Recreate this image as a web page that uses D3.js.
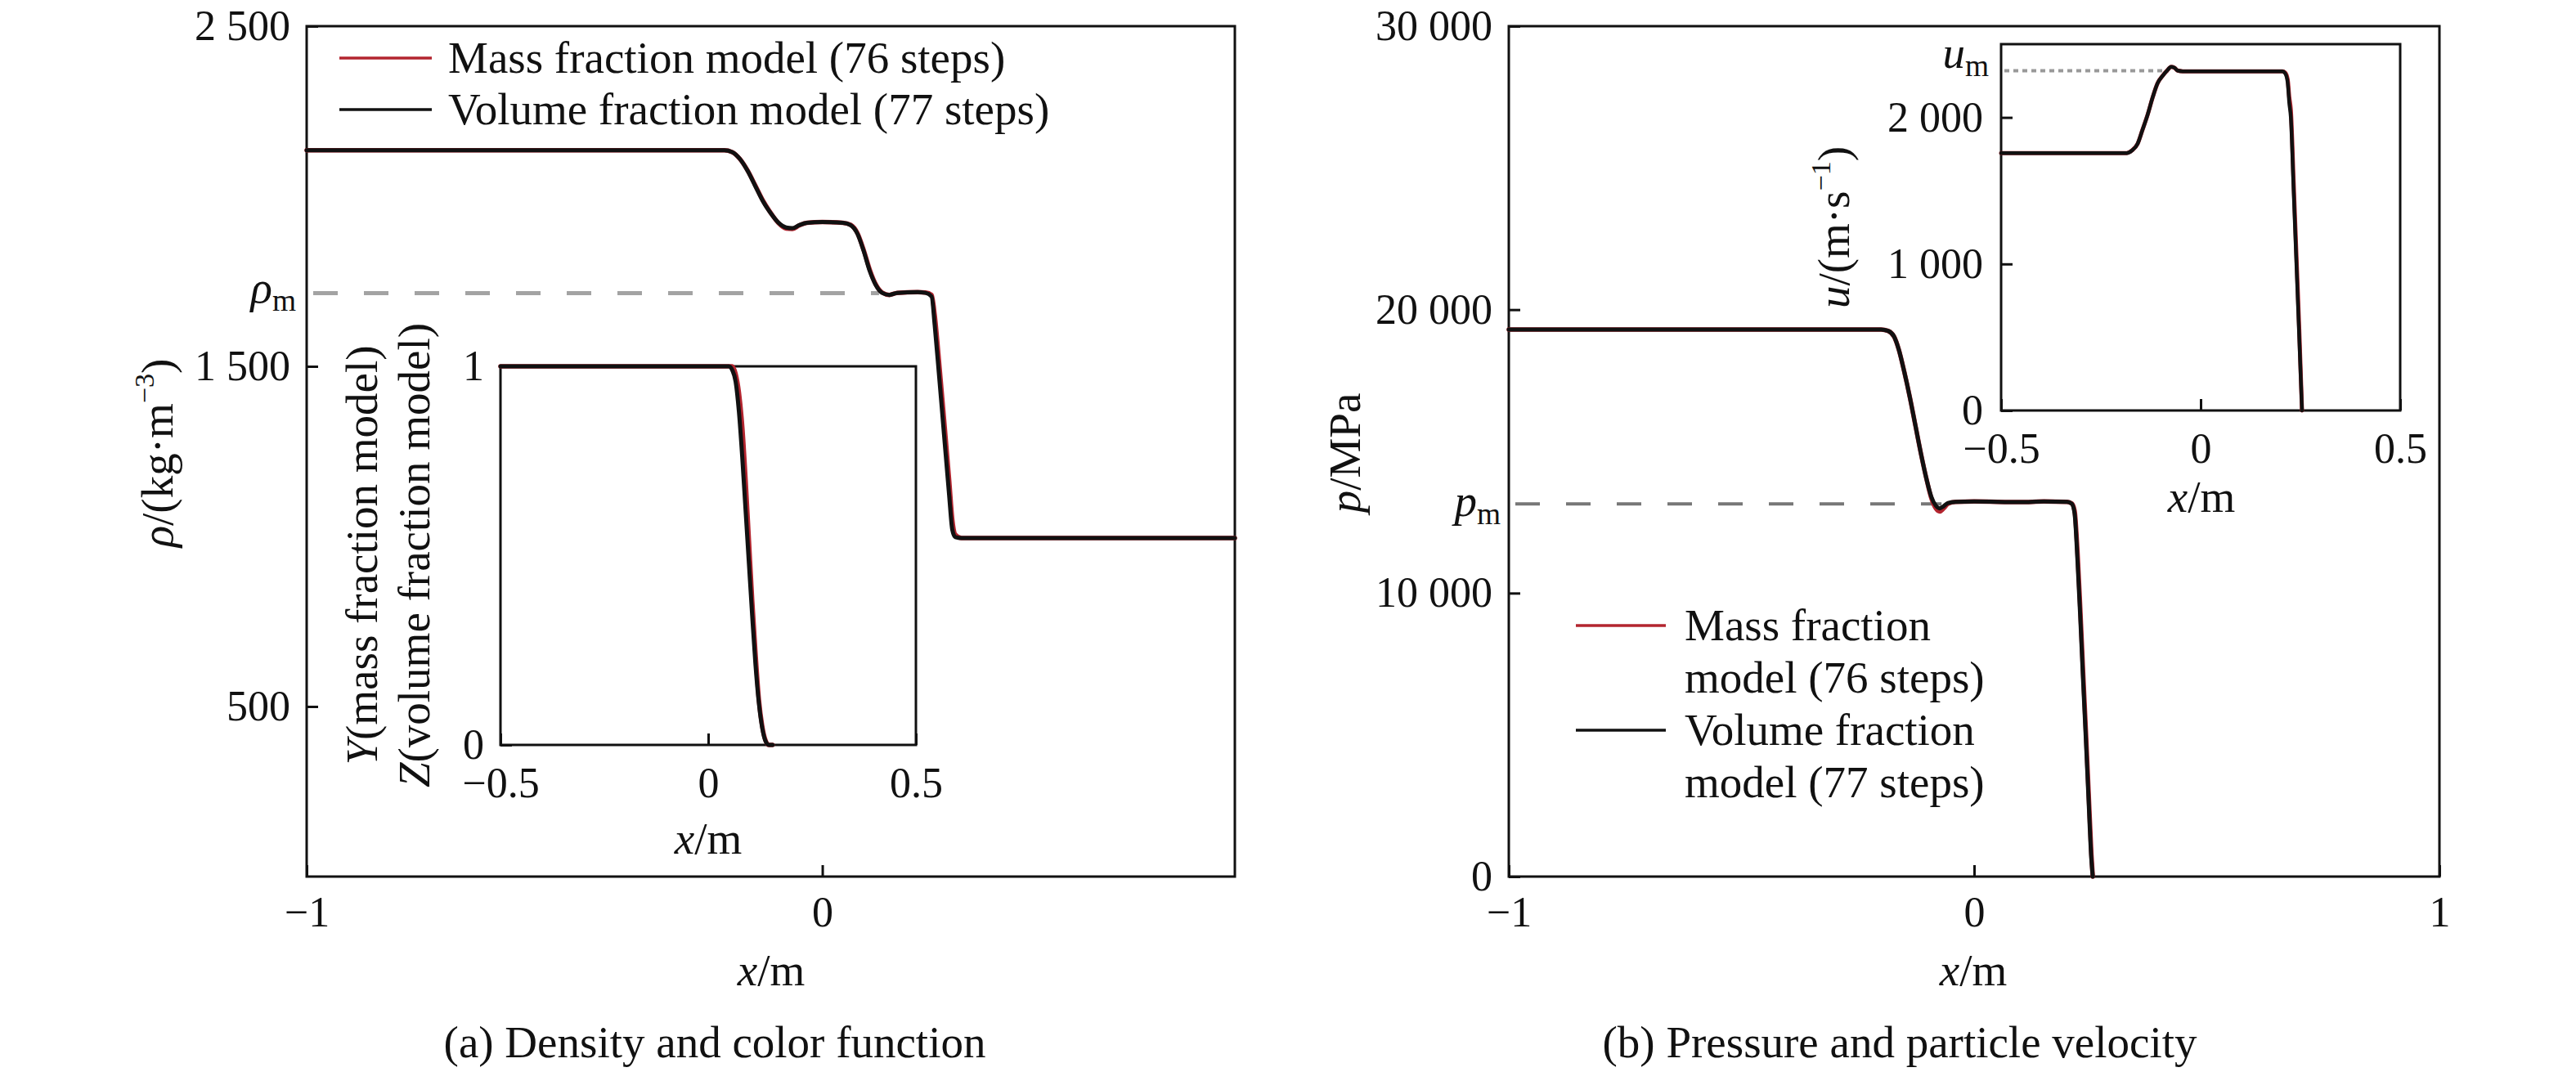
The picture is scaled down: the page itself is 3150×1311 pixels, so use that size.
<!DOCTYPE html>
<html><head><meta charset="utf-8">
<script src="https://cdn.jsdelivr.net/npm/d3@7"></script>
<style>
html,body{margin:0;padding:0;background:#fff;}
svg, svg text, svg tspan{font-family:'Liberation Serif','LiberationSerif','Times New Roman',Times,'DejaVu Serif',serif !important;}
</style></head>
<body><svg id="chart" width="3150" height="1311"></svg>
<script>
// ---------- DATA ----------
const rhoX      = [-1.00,-0.30,-0.19,-0.175,-0.160,-0.145,-0.130,-0.115,-0.100,-0.085,-0.070,-0.058,-0.045,-0.030,0.000,0.040,0.055,0.068,0.080,0.092,0.104,0.116,0.130,0.145,0.185,0.200,0.212,0.218,0.226,0.236,0.246,0.252,0.258,0.270,0.400,0.800];
const rhoVolume = [2135,2135,2135,2130,2110,2075,2030,1985,1950,1922,1908,1906,1915,1922,1924,1922,1915,1890,1840,1780,1738,1716,1710,1716,1718,1716,1705,1620,1480,1300,1120,1020,998,995,995,995];
const rhoMass   = [2135,2135,2135,2130,2110,2076,2032,1987,1951,1921,1905,1904,1914,1922,1924,1922,1916,1892,1843,1784,1740,1717,1710,1716,1718,1717,1710,1650,1520,1345,1165,1050,1005,995,995,995];
const rhoM = 1715;

const colorX      = [-0.50,0.00,0.050,0.058,0.066,0.074,0.082,0.090,0.098,0.106,0.114,0.122,0.130,0.138,0.146,0.155];
const colorVolume = [1,1,1,0.99,0.96,0.88,0.76,0.62,0.48,0.34,0.21,0.11,0.045,0.01,0,0];
const colorMass   = [1,1,1,1,0.98,0.93,0.84,0.70,0.54,0.38,0.24,0.12,0.05,0.012,0,0];

const pX      = [-1.00,-0.30,-0.20,-0.185,-0.172,-0.162,-0.150,-0.138,-0.126,-0.114,-0.102,-0.092,-0.082,-0.074,-0.066,-0.056,-0.040,0.000,0.100,0.150,0.200,0.210,0.216,0.222,0.228,0.234,0.240,0.246,0.252,0.255];
const pVolume = [19300,19300,19300,19250,19050,18600,17800,16900,15900,14900,14000,13400,13080,12990,13060,13180,13220,13230,13210,13230,13220,13150,12800,11200,9200,7000,4900,2700,600,0];
const pMass   = [19300,19300,19300,19250,19050,18600,17800,16900,15900,14900,14000,13350,12980,12880,12980,13150,13220,13230,13210,13230,13220,13160,12900,11500,9500,7300,5200,3000,800,0];
const pM = 13150;

const uX      = [-0.50,-0.30,-0.185,-0.172,-0.158,-0.146,-0.133,-0.120,-0.108,-0.095,-0.084,-0.074,-0.066,-0.058,-0.045,0.100,0.205,0.212,0.218,0.222,0.226,0.233,0.240,0.247,0.254];
const uVolume = [1757,1757,1757,1775,1820,1913,2017,2139,2233,2285,2320,2345,2340,2320,2315,2315,2315,2300,2240,2100,2000,1500,1000,500,0];
const uMass   = [1757,1757,1757,1775,1820,1913,2017,2139,2233,2285,2320,2345,2340,2320,2315,2315,2315,2305,2260,2140,2050,1560,1060,560,0];
const uM = 2318;

const rhoTicks = [500,1500,2500];
const rhoXTicks = [-1,0];
const pTicks = [0,10000,20000,30000];
const pXTicks = [-1,0,1];
const colorTicks = [0,1];
const insetXTicks = [-0.5,0,0.5];
const uTicks = [0,1000,2000];

const legendLabels = ["Mass fraction model (76 steps)","Volume fraction model (77 steps)"];
const legendLabelsB = [["Mass fraction","model (76 steps)"],["Volume fraction","model (77 steps)"]];
const captions = ["(a) Density and color function","(b) Pressure and particle velocity"];

// ---------- STYLE ----------
const FONT = "'Liberation Serif','LiberationSerif','Times New Roman',Times,'DejaVu Serif',serif";
const RED = "#b3252f", BLACK = "#111";
const TICK_FS = 52, LABEL_FS = 55;
const svg = d3.select("#chart");

function fmt(v){
  let s = d3.format(",")(v).replace(/,/g," ");
  return s.replace("-","\u2212");
}

function panel(opts){
  const g = svg.append("g");
  const x = d3.scaleLinear().domain(opts.xd).range([opts.x0,opts.x1]);
  const y = d3.scaleLinear().domain(opts.yd).range([opts.y1,opts.y0]);
  g.append("rect").attr("x",opts.x0).attr("y",opts.y0)
    .attr("width",opts.x1-opts.x0).attr("height",opts.y1-opts.y0)
    .attr("fill","#fff").attr("stroke",BLACK).attr("stroke-width",3);
  const ax = g.append("g").attr("transform",`translate(0,${opts.y1})`)
    .call(d3.axisBottom(x).tickValues(opts.xt).tickFormat(fmt).tickSizeInner(-14).tickSizeOuter(0).tickPadding(opts.xpad||24));
  const ay = g.append("g").attr("transform",`translate(${opts.x0},0)`)
    .call(d3.axisLeft(y).tickValues(opts.yt).tickFormat(fmt).tickSizeInner(-14).tickSizeOuter(0).tickPadding(opts.ypad||20));
  [ax,ay].forEach(a=>{
    a.attr("font-family",FONT);
    a.select(".domain").remove();
    a.selectAll(".tick line").attr("stroke",BLACK).attr("stroke-width",3);
    a.selectAll(".tick text").attr("font-size",TICK_FS).attr("fill",BLACK).attr("font-family",FONT);
  });
  return {g,x,y,ax,ay};
}

function curve(p, xs, ys, color, w){
  const line = d3.line().x((d,i)=>p.x(xs[i])).y((d,i)=>p.y(ys[i])).curve(d3.curveMonotoneX);
  p.g.append("path").attr("d",line(xs)).attr("fill","none").attr("stroke",color)
    .attr("stroke-width",w).attr("stroke-linejoin","round").attr("stroke-linecap","round");
}

function label(parts, x, y, fs, anchor, rotate){
  const t = svg.append("text").attr("font-size",fs).attr("fill",BLACK).attr("font-family",FONT)
    .attr("text-anchor",anchor||"middle")
    .attr("transform",`translate(${x},${y})${rotate?" rotate(-90)":""}`);
  parts.forEach(pt=>{
    const ts = t.append("tspan").text(pt.t);
    if(pt.i) ts.attr("font-style","italic");
    if(pt.sub){ ts.attr("font-size",fs*0.68).attr("dy",fs*0.18); }
    if(pt.sup){ ts.attr("font-size",fs*0.62).attr("dy",-fs*0.42); }
    if(pt.dy!==undefined) ts.attr("dy",pt.dy);
  });
  return t;
}

// ---------- PANEL A ----------
const A = panel({x0:375,x1:1510,y0:32,y1:1072,xd:[-1,0.8],yd:[0,2500],xt:rhoXTicks,yt:rhoTicks});
A.g.append("line").attr("x1",A.x(-1)+8).attr("x2",A.x(0.11)).attr("y1",A.y(rhoM)).attr("y2",A.y(rhoM))
  .attr("stroke","#a3a3a3").attr("stroke-width",5).attr("stroke-dasharray","30 32");
curve(A, rhoX, rhoMass, RED, 5.5);
curve(A, rhoX, rhoVolume, BLACK, 5);
// legend a
[RED,BLACK].forEach((c,i)=>{
  const yy = 71 + i*63;
  svg.append("line").attr("x1",415).attr("x2",528).attr("y1",yy).attr("y2",yy).attr("stroke",c).attr("stroke-width",3.5);
  label([{t:legendLabels[i]}],548,yy+18,LABEL_FS,"start");
});
label([{t:"\u03C1",i:1},{t:"m",sub:1}],362,370,LABEL_FS,"end");
label([{t:"\u03C1",i:1},{t:"/(kg\u00B7m"},{t:"\u22123",sup:1},{t:")",dy:LABEL_FS*0.42}],211,554,LABEL_FS,"middle",true);
label([{t:"x",i:1},{t:"/m"}],943,1205,LABEL_FS,"middle");
label([{t:captions[0]}],874,1293,LABEL_FS,"middle");

// inset a
const AI = panel({x0:612,x1:1120,y0:448,y1:911,xd:[-0.5,0.5],yd:[0,1],xt:insetXTicks,yt:colorTicks,xpad:27,ypad:20});
curve(AI, colorX, colorMass, RED, 5.5);
curve(AI, colorX, colorVolume, BLACK, 5);
label([{t:"Y",i:1},{t:"(mass fraction model)"}],461,679,LABEL_FS,"middle",true);
label([{t:"Z",i:1},{t:"(volume fraction model)"}],525,679,LABEL_FS,"middle",true);
label([{t:"x",i:1},{t:"/m"}],866,1044,LABEL_FS,"middle");

// ---------- PANEL B ----------
const B = panel({x0:1845,x1:2983,y0:32,y1:1072,xd:[-1,1],yd:[0,30000],xt:pXTicks,yt:pTicks});
B.g.append("line").attr("x1",B.x(-1)+8).attr("x2",B.x(-0.07)).attr("y1",B.y(pM)).attr("y2",B.y(pM))
  .attr("stroke","#777").attr("stroke-width",4).attr("stroke-dasharray","30 32");
curve(B, pX, pMass, RED, 5.5);
curve(B, pX, pVolume, BLACK, 5);
[RED,BLACK].forEach((c,i)=>{
  const yy = 765 + i*128;
  svg.append("line").attr("x1",1927).attr("x2",2037).attr("y1",yy).attr("y2",yy).attr("stroke",c).attr("stroke-width",3.5);
  label([{t:legendLabelsB[i][0]}],2060,yy+18,LABEL_FS,"start");
  label([{t:legendLabelsB[i][1]}],2060,yy+18+64,LABEL_FS,"start");
});
label([{t:"p",i:1},{t:"m",sub:1}],1835,631,LABEL_FS,"end");
label([{t:"p",i:1},{t:"/MPa"}],1663,554,LABEL_FS,"middle",true);
label([{t:"x",i:1},{t:"/m"}],2413,1205,LABEL_FS,"middle");
label([{t:captions[1]}],2323,1293,LABEL_FS,"middle");

// inset b
const BI = panel({x0:2447,x1:2935,y0:54,y1:502,xd:[-0.5,0.5],yd:[0,2500],xt:insetXTicks,yt:uTicks,xpad:27,ypad:22});
BI.g.append("line").attr("x1",BI.x(-0.5)+4).attr("x2",BI.x(-0.08)).attr("y1",BI.y(uM)).attr("y2",BI.y(uM))
  .attr("stroke","#999").attr("stroke-width",4).attr("stroke-dasharray","6 5");
curve(BI, uX, uMass, RED, 5);
curve(BI, uX, uVolume, BLACK, 4.5);
label([{t:"u",i:1},{t:"m",sub:1}],2432,83,LABEL_FS,"end");
label([{t:"u",i:1},{t:"/(m\u00B7s"},{t:"\u22121",sup:1},{t:")",dy:LABEL_FS*0.42}],2261,278,LABEL_FS,"middle",true);
label([{t:"x",i:1},{t:"/m"}],2692,626,LABEL_FS,"middle");
</script></body></html>
